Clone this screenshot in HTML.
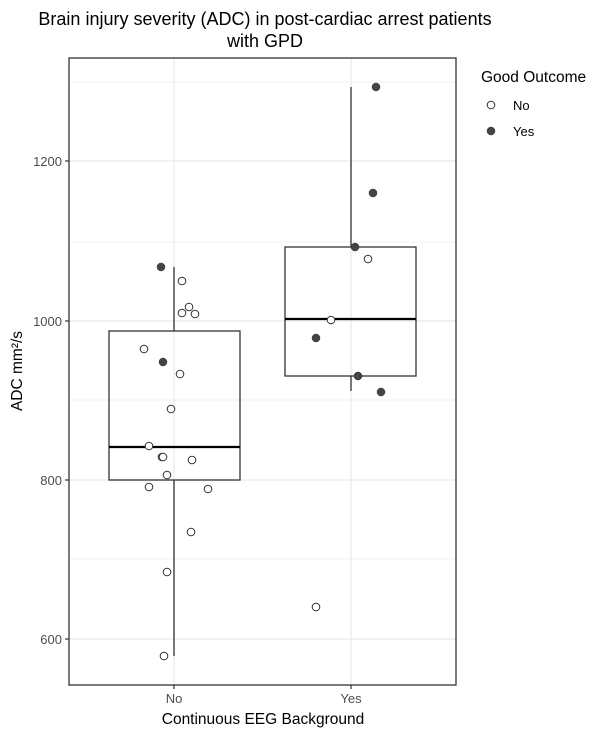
<!DOCTYPE html>
<html><head><meta charset="utf-8"><style>
body{margin:0;background:#fff}
svg{display:block;font-family:"Liberation Sans",Arial,sans-serif}
</style></head><body>
<svg width="612" height="736" viewBox="0 0 612 736" xmlns="http://www.w3.org/2000/svg">
<rect width="612" height="736" fill="#fff"/>
<text x="265" y="25" font-size="18" text-anchor="middle" fill="#000">Brain injury severity (ADC) in post-cardiac arrest patients</text>
<text x="265" y="47" font-size="18" text-anchor="middle" fill="#000">with GPD</text>
<g stroke="#f2f2f2" stroke-width="1">
<line x1="69" x2="456" y1="82" y2="82"/><line x1="69" x2="456" y1="242" y2="242"/>
<line x1="69" x2="456" y1="400" y2="400"/><line x1="69" x2="456" y1="559" y2="559"/>
</g>
<g stroke="#ebebeb" stroke-width="1.3">
<line x1="69" x2="456" y1="161" y2="161"/><line x1="69" x2="456" y1="321" y2="321"/>
<line x1="69" x2="456" y1="480" y2="480"/><line x1="69" x2="456" y1="639" y2="639"/>
<line x1="174" x2="174" y1="58" y2="685"/><line x1="351" x2="351" y1="58" y2="685"/>
</g>
<g stroke="#333" stroke-width="1.3" fill="none">
<line x1="174" x2="174" y1="267" y2="331"/><line x1="174" x2="174" y1="480" y2="656"/>
<rect x="109" y="331" width="131" height="149"/>
<line x1="351" x2="351" y1="87" y2="247"/><line x1="351" x2="351" y1="376" y2="391"/>
<rect x="285" y="247" width="131" height="129"/>
</g>
<line x1="109" x2="240" y1="447" y2="447" stroke="#000" stroke-width="2.2"/>
<line x1="285" x2="416" y1="319" y2="319" stroke="#000" stroke-width="2.2"/>
<g stroke="#333" stroke-width="1" fill="#fff">
<circle cx="182" cy="281" r="3.8"/><circle cx="189" cy="307" r="3.8"/><circle cx="182" cy="313" r="3.8"/>
<circle cx="195" cy="314" r="3.8"/><circle cx="144" cy="349" r="3.8"/><circle cx="180" cy="374" r="3.8"/>
<circle cx="171" cy="409" r="3.8"/><circle cx="149" cy="446" r="3.8"/><circle cx="162" cy="457" r="3.8"/>
<circle cx="163" cy="457" r="3.8"/><circle cx="192" cy="460" r="3.8"/><circle cx="167" cy="475" r="3.8"/>
<circle cx="149" cy="487" r="3.8"/><circle cx="208" cy="489" r="3.8"/><circle cx="191" cy="532" r="3.8"/>
<circle cx="167" cy="572" r="3.8"/><circle cx="164" cy="656" r="3.8"/>
<circle cx="368" cy="259" r="3.8"/><circle cx="331" cy="320" r="3.8"/><circle cx="316" cy="607" r="3.8"/>
</g>
<g fill="#444" stroke="#333" stroke-width="0.5">
<circle cx="161" cy="267" r="4"/><circle cx="163" cy="362" r="4"/>
<circle cx="376" cy="87" r="4"/><circle cx="373" cy="193" r="4"/><circle cx="355" cy="247" r="4"/>
<circle cx="316" cy="338" r="4"/><circle cx="358" cy="376" r="4"/><circle cx="381" cy="392" r="4"/>
</g>
<rect x="69" y="58" width="387" height="627" fill="none" stroke="#333" stroke-width="1.3"/>
<g stroke="#333" stroke-width="1.2">
<line x1="65" x2="69" y1="161" y2="161"/><line x1="65" x2="69" y1="321" y2="321"/>
<line x1="65" x2="69" y1="480" y2="480"/><line x1="65" x2="69" y1="639" y2="639"/>
<line x1="174" x2="174" y1="685" y2="689"/><line x1="351" x2="351" y1="685" y2="689"/>
</g>
<g font-size="13" fill="#4d4d4d" text-anchor="end">
<text x="62" y="166">1200</text><text x="62" y="326">1000</text>
<text x="62" y="485">800</text><text x="62" y="644">600</text>
</g>
<g font-size="13" fill="#4d4d4d" text-anchor="middle">
<text x="174" y="703">No</text><text x="351" y="703">Yes</text>
</g>
<text x="263" y="724" font-size="15.5" text-anchor="middle" fill="#000">Continuous EEG Background</text>
<text transform="translate(22,371) rotate(-90)" font-size="15.5" text-anchor="middle" fill="#000">ADC mm²/s</text>
<text x="481" y="82" font-size="15.5" fill="#000">Good Outcome</text>
<circle cx="491" cy="105" r="3.8" fill="#fff" stroke="#333"/>
<circle cx="491" cy="131" r="4" fill="#444" stroke="#333" stroke-width="0.5"/>
<text x="513" y="110" font-size="13" fill="#000">No</text>
<text x="513" y="136" font-size="13" fill="#000">Yes</text>
</svg>
</body></html>
